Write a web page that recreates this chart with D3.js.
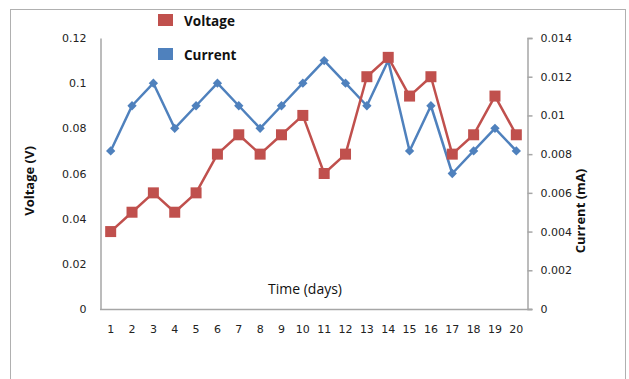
<!DOCTYPE html>
<html>
<head>
<meta charset="utf-8">
<script src="https://cdn.jsdelivr.net/npm/d3@7"></script>
<style>
  html, body { margin: 0; padding: 0; background: #fff; }
  svg { display: block; }
</style>
</head>
<body>
<svg id="chart" width="629" height="379"></svg>
<script>
// Days of measurement
const days = d3.range(1, 21).map(String);
// Voltage series (red, plotted against the right-hand scale)
const voltage = [0.004, 0.005, 0.006, 0.005, 0.006, 0.008, 0.009, 0.008, 0.009, 0.010,
                 0.007, 0.008, 0.012, 0.013, 0.011, 0.012, 0.008, 0.009, 0.011, 0.009];
// Current series (blue, plotted against the left-hand scale)
const current = [0.07, 0.09, 0.10, 0.08, 0.09, 0.10, 0.09, 0.08, 0.09, 0.10,
                 0.11, 0.10, 0.09, 0.11, 0.07, 0.09, 0.06, 0.07, 0.08, 0.07];
const leftTicks = [0, 0.02, 0.04, 0.06, 0.08, 0.1, 0.12];
const rightTicks = [0, 0.002, 0.004, 0.006, 0.008, 0.01, 0.012, 0.014];
const legendItems = ["Voltage", "Current"];

const RED = "#C0504D", BLUE = "#4F81BD", AXIS = "#a6a6a6", TEXT = "#222";
const svg = d3.select("#chart");

// outer chart frame
svg.append("rect").attr("x", 10.5).attr("y", 9.5).attr("width", 615).attr("height", 400)
  .attr("fill", "#fff").attr("stroke", "#b0b0b0").attr("stroke-width", 1);

const plot = { left: 100, right: 527, top: 38, bottom: 309 };

const x = d3.scaleBand().domain(days).range([plot.left, plot.right]);
const yL = d3.scaleLinear().domain([0, 0.12]).range([plot.bottom, plot.top]);
const yR = d3.scaleLinear().domain([0, 0.014]).range([plot.bottom, plot.top]);
const cx = d => x(d) + x.bandwidth() / 2;

const fmt = v => v === 0 ? "0" : String(+v.toFixed(3));

// left axis
const gL = svg.append("g").attr("transform", `translate(${plot.left + 0.5},0)`)
  .call(d3.axisLeft(yL).tickValues(leftTicks).tickFormat(fmt).tickSize(0).tickPadding(14));
// right axis
const gR = svg.append("g").attr("transform", `translate(${plot.right + 0.5},0)`)
  .call(d3.axisRight(yR).tickValues(rightTicks).tickFormat(fmt).tickSize(5).tickPadding(8));
// bottom axis
const gB = svg.append("g").attr("transform", `translate(0,${plot.bottom + 0.5})`)
  .call(d3.axisBottom(x).tickSize(0).tickPadding(16));

[gL, gR, gB].forEach(g => {
  g.select(".domain").attr("stroke", AXIS).attr("stroke-width", 1.5);
  g.selectAll(".tick line").attr("stroke", AXIS).attr("stroke-width", 1.5);
  g.selectAll("text").attr("fill", TEXT).attr("font-family", "DejaVu Sans")
    .attr("font-size", 11);
});
gB.select(".domain").attr("d", `M${plot.left},0H${plot.right + 5}`);

// series lines
const line = (scale) => d3.line().x((d, i) => cx(days[i])).y(d => scale(d));

svg.append("path").datum(current).attr("d", line(yL))
  .attr("fill", "none").attr("stroke", BLUE).attr("stroke-width", 2.5)
  .attr("stroke-linejoin", "round");
svg.append("path").datum(voltage).attr("d", line(yR))
  .attr("fill", "none").attr("stroke", RED).attr("stroke-width", 2.5)
  .attr("stroke-linejoin", "round");

// markers
svg.append("g").selectAll("path").data(current).join("path")
  .attr("transform", (d, i) => `translate(${cx(days[i])},${yL(d)}) rotate(45)`)
  .attr("d", "M-3.3,-3.3H3.3V3.3H-3.3Z").attr("fill", BLUE);
svg.append("g").selectAll("rect").data(voltage).join("rect")
  .attr("x", (d, i) => cx(days[i]) - 5.5).attr("y", d => yR(d) - 5.5)
  .attr("width", 11).attr("height", 11).attr("fill", RED);

// legend
const leg = svg.append("g").selectAll("g").data(legendItems).join("g")
  .attr("transform", (d, i) => `translate(158,${14 + i * 34})`);
leg.append("rect").attr("width", 15).attr("height", 12)
  .attr("fill", (d, i) => i === 0 ? RED : BLUE);
leg.append("text").attr("x", 26).attr("y", 11.5).text(d => d)
  .attr("font-family", "Open Sans").attr("font-weight", "bold").attr("font-size", 13.5)
  .attr("fill", "#111");

// axis titles
svg.append("text").attr("transform", "translate(34,181) rotate(-90)")
  .attr("text-anchor", "middle").attr("font-family", "Open Sans").attr("font-weight", "bold")
  .attr("font-size", 13).attr("fill", "#111").text("Voltage (V)");
svg.append("text").attr("transform", "translate(585,211) rotate(-90)")
  .attr("text-anchor", "middle").attr("font-family", "Open Sans").attr("font-weight", "bold")
  .attr("font-size", 13).attr("fill", "#111").text("Current (mA)");
svg.append("text").attr("x", 305).attr("y", 294)
  .attr("text-anchor", "middle").attr("font-family", "Open Sans")
  .attr("font-size", 14).attr("fill", "#111").text("Time (days)");
</script>
</body>
</html>
